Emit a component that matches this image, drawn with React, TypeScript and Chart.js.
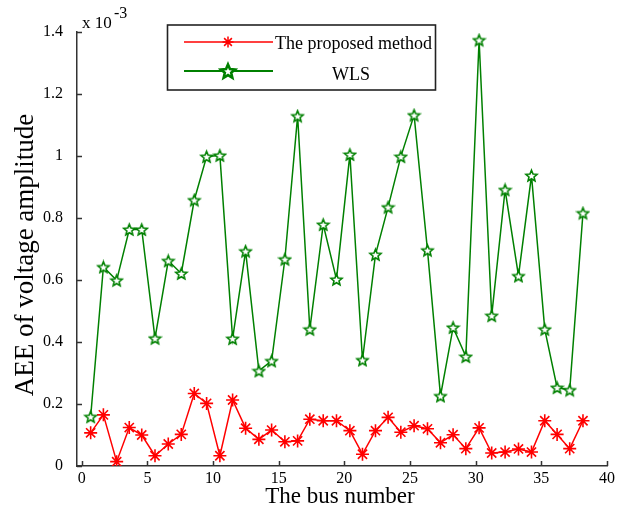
import React, { useEffect, useRef } from "react";
import { Chart, registerables } from "chart.js";
Chart.register(...registerables);

// Bus positions
const busX = [0.68, 1.65, 2.66, 3.62, 4.57, 5.58, 6.59, 7.58, 8.57, 9.51, 10.52, 11.49, 12.48, 13.49, 14.46, 15.47, 16.44, 17.37, 18.39, 19.4, 20.42, 21.38, 22.37, 23.33, 24.3, 25.31, 26.33, 27.32, 28.28, 29.25, 30.26, 31.22, 32.24, 33.26, 34.25, 35.26, 36.2, 37.16, 38.17];
// AEE values (x 10^-3)
const proposed = [0.107, 0.165, 0.014, 0.124, 0.1, 0.033, 0.071, 0.102, 0.234, 0.202, 0.033, 0.213, 0.122, 0.086, 0.116, 0.078, 0.081, 0.151, 0.146, 0.146, 0.114, 0.038, 0.114, 0.157, 0.109, 0.13, 0.12, 0.075, 0.101, 0.056, 0.123, 0.042, 0.045, 0.055, 0.045, 0.146, 0.102, 0.056, 0.146];
const wls = [0.159, 0.642, 0.599, 0.763, 0.763, 0.412, 0.662, 0.621, 0.858, 0.998, 1.002, 0.411, 0.693, 0.307, 0.339, 0.667, 1.129, 0.441, 0.779, 0.602, 1.005, 0.342, 0.682, 0.835, 0.998, 1.132, 0.696, 0.226, 0.447, 0.353, 1.374, 0.485, 0.891, 0.613, 0.937, 0.441, 0.253, 0.245, 0.816];
const xTicks = [0, 5, 10, 15, 20, 25, 30, 35, 40];
const yTicks = [0, 0.2, 0.4, 0.6, 0.8, 1, 1.2, 1.4];
const seriesNames = ["The proposed method", "WLS"];
const xTitle = "The bus number";
const yTitle = "AEE of voltage amplitude";

const SERIF = "'Liberation Serif', 'Times New Roman', serif";
const RED = "#ff0000";
const GREEN = "#008000";
const AXIS = "#333333";

function makePentagram(size: number, color: string, lw: number, fill: string | null): HTMLCanvasElement {
  const c = document.createElement("canvas");
  c.width = size;
  c.height = size;
  const ctx = c.getContext("2d")!;
  const cx = size / 2;
  const cy = size / 2 + size * 0.04;
  const R = size / 2 - lw;
  const r = R * 0.45;
  ctx.beginPath();
  for (let i = 0; i < 10; i++) {
    const a = -Math.PI / 2 + (i * Math.PI) / 5;
    const rad = i % 2 === 0 ? R : r;
    const px = cx + rad * Math.cos(a);
    const py = cy + rad * Math.sin(a);
    if (i === 0) ctx.moveTo(px, py);
    else ctx.lineTo(px, py);
  }
  ctx.closePath();
  if (fill) {
    ctx.fillStyle = fill;
    ctx.fill();
  }
  ctx.strokeStyle = color;
  ctx.lineWidth = lw;
  ctx.lineJoin = "miter";
  ctx.stroke();
  return c;
}

export default function App() {
  const ref = useRef<HTMLCanvasElement | null>(null);

  useEffect(() => {
    if (!ref.current) return;
    const star = makePentagram(15, GREEN, 1.6, "#ffffff");
    const legendStar = makePentagram(20, GREEN, 2.6, "#ffffff");

    const deco = {
      id: "deco",
      afterDraw(chart: any) {
        const ctx = chart.ctx as CanvasRenderingContext2D;
        const xs = chart.scales.x;
        const ys = chart.scales.y;
        const area = chart.chartArea;
        ctx.save();
        // inward ticks
        ctx.strokeStyle = AXIS;
        ctx.lineWidth = 1.5;
        ctx.beginPath();
        xTicks.forEach((v) => {
          const px = Math.round(xs.getPixelForValue(v)) + 0.5;
          ctx.moveTo(px, area.bottom);
          ctx.lineTo(px, area.bottom - 5);
        });
        yTicks.forEach((v) => {
          const py = Math.round(ys.getPixelForValue(v)) + 0.5;
          ctx.moveTo(area.left, py);
          ctx.lineTo(area.left + 5, py);
        });
        ctx.stroke();

        // exponent label
        ctx.fillStyle = "#000";
        ctx.textBaseline = "alphabetic";
        ctx.textAlign = "left";
        ctx.font = `17px ${SERIF}`;
        ctx.fillText("x 10", 82, 28);
        ctx.font = `16px ${SERIF}`;
        ctx.fillText("-3", 114, 18);

        // axis titles
        ctx.font = `23px ${SERIF}`;
        ctx.textAlign = "center";
        ctx.fillText(xTitle, 340, 503);
        ctx.save();
        ctx.translate(33, 255);
        ctx.rotate(-Math.PI / 2);
        ctx.font = `27px ${SERIF}`;
        ctx.fillText(yTitle, 0, 0);
        ctx.restore();

        // legend
        ctx.fillStyle = "#fff";
        ctx.fillRect(167.5, 25, 268, 65);
        ctx.strokeStyle = "#222";
        ctx.lineWidth = 1.6;
        ctx.strokeRect(167.5, 25, 268, 65);
        ctx.lineWidth = 1.5;
        ctx.strokeStyle = RED;
        ctx.beginPath();
        ctx.moveTo(184, 42);
        ctx.lineTo(273, 42);
        ctx.stroke();
        // asterisk
        ctx.beginPath();
        const ar = 5.5;
        for (let i = 0; i < 4; i++) {
          const a = (i * Math.PI) / 4;
          ctx.moveTo(228 - ar * Math.cos(a), 42 - ar * Math.sin(a));
          ctx.lineTo(228 + ar * Math.cos(a), 42 + ar * Math.sin(a));
        }
        ctx.stroke();
        ctx.strokeStyle = GREEN;
        ctx.lineWidth = 1.8;
        ctx.beginPath();
        ctx.moveTo(184, 71);
        ctx.lineTo(273, 71);
        ctx.stroke();
        ctx.drawImage(legendStar, 228 - 10, 71 - 10);
        ctx.fillStyle = "#000";
        ctx.font = `18px ${SERIF}`;
        ctx.textAlign = "left";
        ctx.fillText(seriesNames[0], 275, 49);
        ctx.textAlign = "center";
        ctx.fillText(seriesNames[1], 351, 80);
        ctx.restore();
      },
    };

    const chart = new Chart(ref.current, {
      type: "line",
      data: {
        datasets: [
          {
            label: seriesNames[1],
            data: busX.map((x, i) => ({ x, y: wls[i] })),
            borderColor: GREEN,
            backgroundColor: GREEN,
            borderWidth: 1.5,
            pointStyle: star as any,
            pointRadius: 7,
            tension: 0,
          },
          {
            label: seriesNames[0],
            data: busX.map((x, i) => ({ x, y: proposed[i] })),
            borderColor: RED,
            backgroundColor: RED,
            borderWidth: 1.5,
            pointStyle: "star",
            pointRadius: 6.5,
            pointBorderWidth: 1.6,
            tension: 0,
          },
        ],
      },
      options: {
        animation: false,
        responsive: false,
        maintainAspectRatio: false,
        layout: { padding: { left: 0, right: 26, top: 32, bottom: 0 } },
        plugins: { legend: { display: false }, tooltip: { enabled: false } },
        scales: {
          x: {
            type: "linear",
            min: -0.36,
            max: 40,
            afterBuildTicks: (s: any) => {
              s.ticks = xTicks.map((v) => ({ value: v }));
            },
            afterFit: (s: any) => {
              s.height = 42;
            },
            grid: { display: true, drawOnChartArea: false, drawTicks: false },
            border: { display: true, color: AXIS, width: 1.5 },
            ticks: {
              padding: 3,
              color: "#000",
              font: { family: SERIF, size: 16 },
              maxRotation: 0,
              autoSkip: false,
              callback: (v: any) => String(v),
            },
          },
          y: {
            type: "linear",
            min: 0,
            max: 1.4,
            afterBuildTicks: (s: any) => {
              s.ticks = yTicks.map((v) => ({ value: v }));
            },
            afterFit: (s: any) => {
              s.width = 77;
            },
            grid: { display: true, drawOnChartArea: false, drawTicks: false },
            border: { display: true, color: AXIS, width: 1.5 },
            ticks: {
              padding: 14,
              color: "#000",
              font: { family: SERIF, size: 16 },
              autoSkip: false,
              callback: (v: any) => String(Math.round(Number(v) * 10) / 10),
            },
          },
        },
      },
      plugins: [deco],
    });
    return () => chart.destroy();
  }, []);

  return (
    <div style={{ position: "absolute", left: 0, top: 0, width: 633, height: 508, background: "#fff" }}>
      <canvas ref={ref} width={633} height={508} style={{ display: "block", width: 633, height: 508 }} />
    </div>
  );
}
